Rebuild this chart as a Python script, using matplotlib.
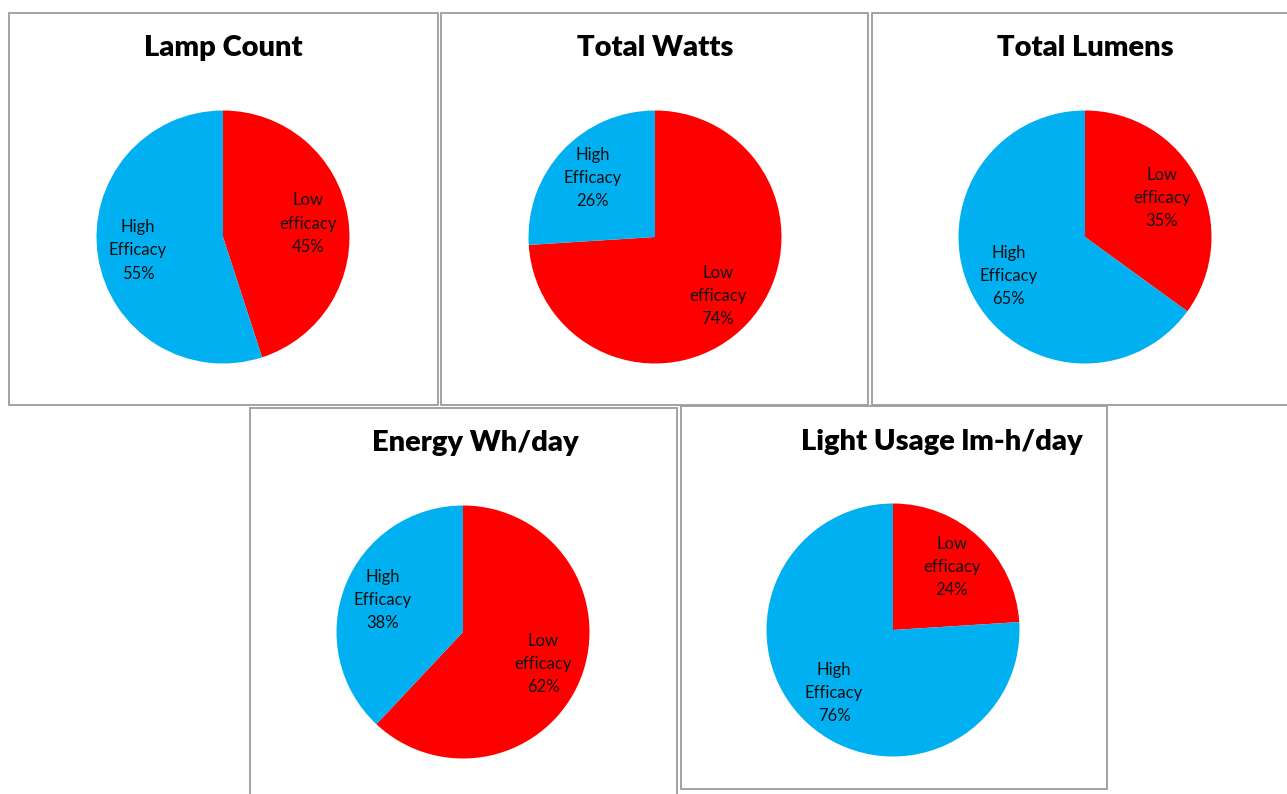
import matplotlib
matplotlib.use("Agg")
import matplotlib.pyplot as plt
from matplotlib.patches import Rectangle

# Share of lamps / watts / lumens / energy / light usage by efficacy class
titles = ["Lamp Count", "Total Watts", "Total Lumens", "Energy Wh/day", "Light Usage lm-h/day"]
low_efficacy = [45, 74, 35, 62, 24]
high_efficacy = [55, 26, 65, 38, 76]
slice_names = ["Low\nefficacy", "High\nEfficacy"]

RED = "#FF0000"
BLUE = "#00B0F0"
BORDER = "#9C9C9C"

W, H = 1287, 794
fig = plt.figure(figsize=(W / 100, H / 100), dpi=100)
fig.patch.set_facecolor("white")
plt.rcParams["font.family"] = ["Lato", "DejaVu Sans"]

# panel frames in pixels: left, top, right, bottom
frames = [
    (9, 13, 437.5, 405),
    (441, 13, 868, 405),
    (871.5, 13, 1300, 405),
    (249.5, 408, 677, 810),
    (680.5, 406, 1106.5, 788.5),
]
# pie centres (px), radius (px) and title centres (px)
centres = [(223, 237), (655, 237), (1085, 237), (463, 632), (893, 630)]
radius = 126.5
title_pos = [(223, 48), (655, 48), (1085, 48), (475, 443), (942, 442)]


def fx(x):
    return x / W


def fy(y):
    return 1 - y / H


for (l, t, r, b) in frames:
    fig.patches.append(Rectangle((fx(l), fy(b)), fx(r) - fx(l), fy(t) - fy(b),
                                 transform=fig.transFigure, fill=False,
                                 edgecolor=BORDER, linewidth=1.3, zorder=0))

for i, title in enumerate(titles):
    cx, cy = centres[i]
    ax = fig.add_axes([fx(cx - radius), fy(cy + radius),
                       2 * radius / W, 2 * radius / H])
    vals = [low_efficacy[i], high_efficacy[i]]
    labels = [f"{name}\n{v}%" for name, v in zip(slice_names, vals)]
    wedges, texts = ax.pie(vals, colors=[RED, BLUE], startangle=90,
                           counterclock=False, labels=labels,
                           labeldistance=0.68, radius=1.0,
                           wedgeprops=dict(linewidth=0),
                           textprops=dict(fontsize=12, color="#111111",
                                          ha="center", va="center",
                                          linespacing=1.55))
    for t in texts:
        t.set_horizontalalignment("center")
        t.set_multialignment("center")
    ax.set_xlim(-1, 1)
    ax.set_ylim(-1, 1)
    ax.set_aspect("equal")
    ax.axis("off")

    tx, ty = title_pos[i]
    fig.text(fx(tx), fy(ty), title, ha="center", va="center",
             fontsize=21, fontweight="heavy", color="black")

fig.savefig("out.png", dpi=100, facecolor="white")
